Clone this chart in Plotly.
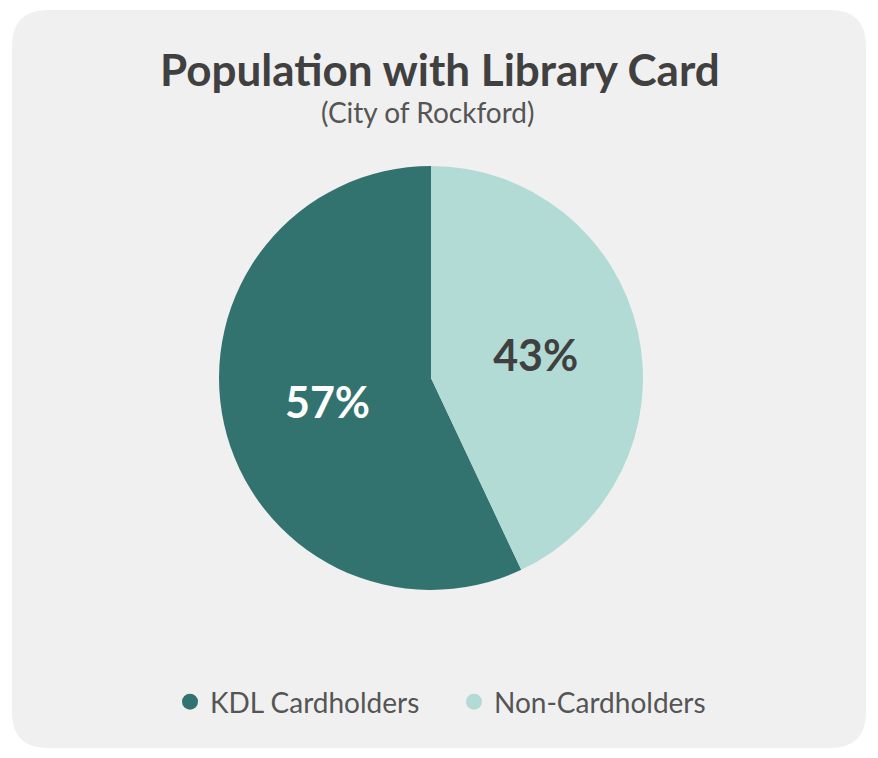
import plotly.graph_objects as go

# Dados do gráfico
categorias = ["KDL Cardholders", "Non-Cardholders"]
valores = [57, 43]
cores = ["#33736f", "#b2dbd5"]
cores_texto = ["#ffffff", "#404040"]

# A página tem margem de 8px no body: a figura ocupa o resto da janela
OFF = 8
W, H = 878 - OFF, 758 - OFF


def px_x(v):
  return (v - OFF) / W


def px_y(v):
  return 1 - (v - OFF) / H


# Primeira fatia termina às 12h (cresce no sentido anti-horário a partir do fim da segunda)
rotacao = 360 * valores[1] / sum(valores)

fig = go.Figure()

fig.add_trace(go.Pie(
  labels=categorias,
  values=valores,
  sort=False,
  direction="clockwise",
  rotation=rotacao,
  marker=dict(colors=cores, line=dict(width=0)),
  texttemplate="<b>%{percent:.0%}</b>",
  textposition="inside",
  insidetextfont=dict(size=43, color=cores_texto, family="Lato"),
  hoverinfo="label+percent",
  showlegend=False,
  domain=dict(x=[px_x(431 - 212), px_x(431 + 212)], y=[px_y(590), px_y(166)]),
))

# Legenda com marcadores circulares
for nome, cor in zip(categorias, cores):
  fig.add_trace(go.Scatter(
    x=[None], y=[None], mode="markers", name=nome,
    marker=dict(symbol="circle", size=20, color=cor),
  ))

# Cartão com cantos arredondados (coordenadas de papel)
x0, x1 = px_x(12), px_x(866)
y0, y1 = px_y(748), px_y(10)
rx, ry = 36 / W, 36 / H
path = (
  f"M {x0 + rx} {y1} L {x1 - rx} {y1} Q {x1} {y1} {x1} {y1 - ry} "
  f"L {x1} {y0 + ry} Q {x1} {y0} {x1 - rx} {y0} "
  f"L {x0 + rx} {y0} Q {x0} {y0} {x0} {y0 + ry} "
  f"L {x0} {y1 - ry} Q {x0} {y1} {x0 + rx} {y1} Z"
)
fig.add_shape(type="path", path=path, xref="paper", yref="paper",
              fillcolor="#f0f0f0", line=dict(width=0), layer="below")

fig.add_annotation(text="<b>Population with Library Card</b>", xref="paper", yref="paper",
                   x=px_x(440), y=px_y(69), xanchor="center", yanchor="middle", showarrow=False,
                   font=dict(size=44, color="#404040", family="Lato"))
fig.add_annotation(text="(City of Rockford)", xref="paper", yref="paper",
                   x=px_x(427), y=px_y(112), xanchor="center", yanchor="middle", showarrow=False,
                   font=dict(size=28, color="#555555", family="Lato"))

fig.update_layout(
  width=W, height=H,
  margin=dict(l=0, r=0, t=0, b=0),
  paper_bgcolor="#ffffff",
  plot_bgcolor="rgba(0,0,0,0)",
  xaxis=dict(visible=False),
  yaxis=dict(visible=False),
  font=dict(family="Lato", color="#555555"),
  legend=dict(orientation="h", x=px_x(170), xanchor="left", y=px_y(702), yanchor="middle",
              font=dict(size=28, color="#555555"), bgcolor="rgba(0,0,0,0)",
              itemsizing="trace", itemwidth=30, entrywidth=239, entrywidthmode="pixels"),
)

fig.write_html("out.html")
